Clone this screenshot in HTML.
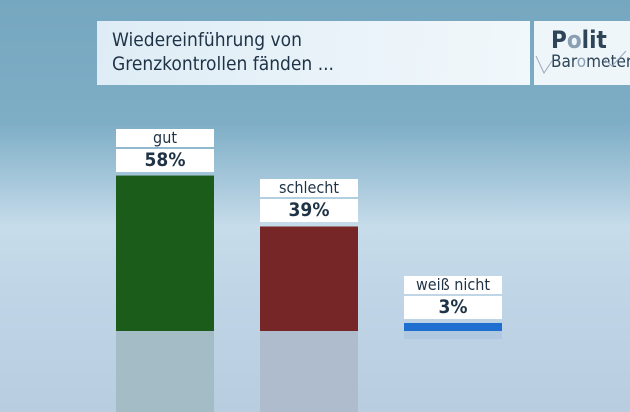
<!DOCTYPE html>
<html><head><meta charset="utf-8"><style>
body{margin:0;width:630px;height:412px;overflow:hidden;font-family:"Liberation Sans","DejaVu Sans",sans-serif;}
#bg{position:absolute;left:0;top:0;width:630px;height:412px;background:linear-gradient(180deg,#76a7c0 0%,#7eaec6 30%,#a9c9dc 45%,#c6dcea 55%,#c0d6e7 70%,#b8cde0 100%);}
#title{position:absolute;left:97px;top:21px;width:433px;height:64px;background:linear-gradient(90deg,rgba(228,240,248,.95),rgba(245,250,253,.97));color:#1f3347;font-size:19px;line-height:24px;padding:7px 0 0 15px;box-sizing:border-box;font-family:"DejaVu Sans Condensed","DejaVu Sans",sans-serif;}
#logo{position:absolute;left:534px;top:21px;width:96px;height:64px;background:rgba(245,250,253,.95);color:#2e4558;font-family:"DejaVu Sans Condensed","DejaVu Sans",sans-serif;}
.lab{position:absolute;background:#fff;text-align:center;color:#1f3347;font-family:"DejaVu Sans Condensed","DejaVu Sans",sans-serif;}
</style></head><body>
<div id="bg"></div>
<div id="title">Wiedereinführung von<br>Grenzkontrollen fänden ...</div>
<div id="logo">
<div style="position:absolute;left:17px;top:5px;font-size:24px;font-weight:bold;">P<span style="color:#8aa0b2">o</span>lit</div>
<div style="position:absolute;left:17px;top:31px;font-size:17px;">Bar<span style="color:#8aa0b2">o</span>meter</div>
<svg style="position:absolute;left:0;top:0" width="96" height="64"><polyline points="2,35 10,52 18,40" fill="none" stroke="#9ab" stroke-width="1"/><polyline points="70,38 78,45 92,30" fill="none" stroke="#9ab" stroke-width="1"/></svg>
</div>
<svg id="chart" width="630" height="412" style="position:absolute;left:0;top:0"></svg>
<div id="labels"></div>
<script>
const categories=["gut","schlecht","weiß nicht"];
const values=[58,39,3];
const colors=["#1b5c1a","#772628","#1e6fd0"];
const reflColors=["#a4bcc6","#aebcce","#b0c8e0"];
const baseY=331, scale=2.68, x0=116, step=144, bw=98;
const yPos=v=>baseY-v*scale;
const ns="http://www.w3.org/2000/svg";
const svg=document.getElementById('chart');
const lab=document.getElementById('labels');
categories.forEach((c,i)=>{
  const x=x0+i*step, top=yPos(values[i]);
  const r=document.createElementNS(ns,'rect');
  r.setAttribute('x',x);r.setAttribute('y',top);r.setAttribute('width',bw);r.setAttribute('height',baseY-top);r.setAttribute('fill',colors[i]);
  
  
  svg.appendChild(r);
  const rf=document.createElementNS(ns,'rect');
  const rh=Math.min(baseY-top,412-baseY);
  rf.setAttribute('x',x);rf.setAttribute('y',baseY);rf.setAttribute('width',bw);rf.setAttribute('height',Math.max(rh,i==2?7:rh));rf.setAttribute('fill',reflColors[i]);
  
  
  svg.appendChild(rf);
  const n=document.createElement('div');n.className='lab';
  
  
  n.style.cssText=`left:${x}px;top:${top-47}px;width:${bw}px;height:18px;font-size:16px;line-height:18px;`;
  n.textContent=c;lab.appendChild(n);
  const v=document.createElement('div');v.className='lab';
  
  
  v.style.cssText=`left:${x}px;top:${top-27}px;width:${bw}px;height:23px;font-size:19px;line-height:23px;font-weight:bold;`;
  v.textContent=values[i]+'%';lab.appendChild(v);
});
</script>
</body></html>
